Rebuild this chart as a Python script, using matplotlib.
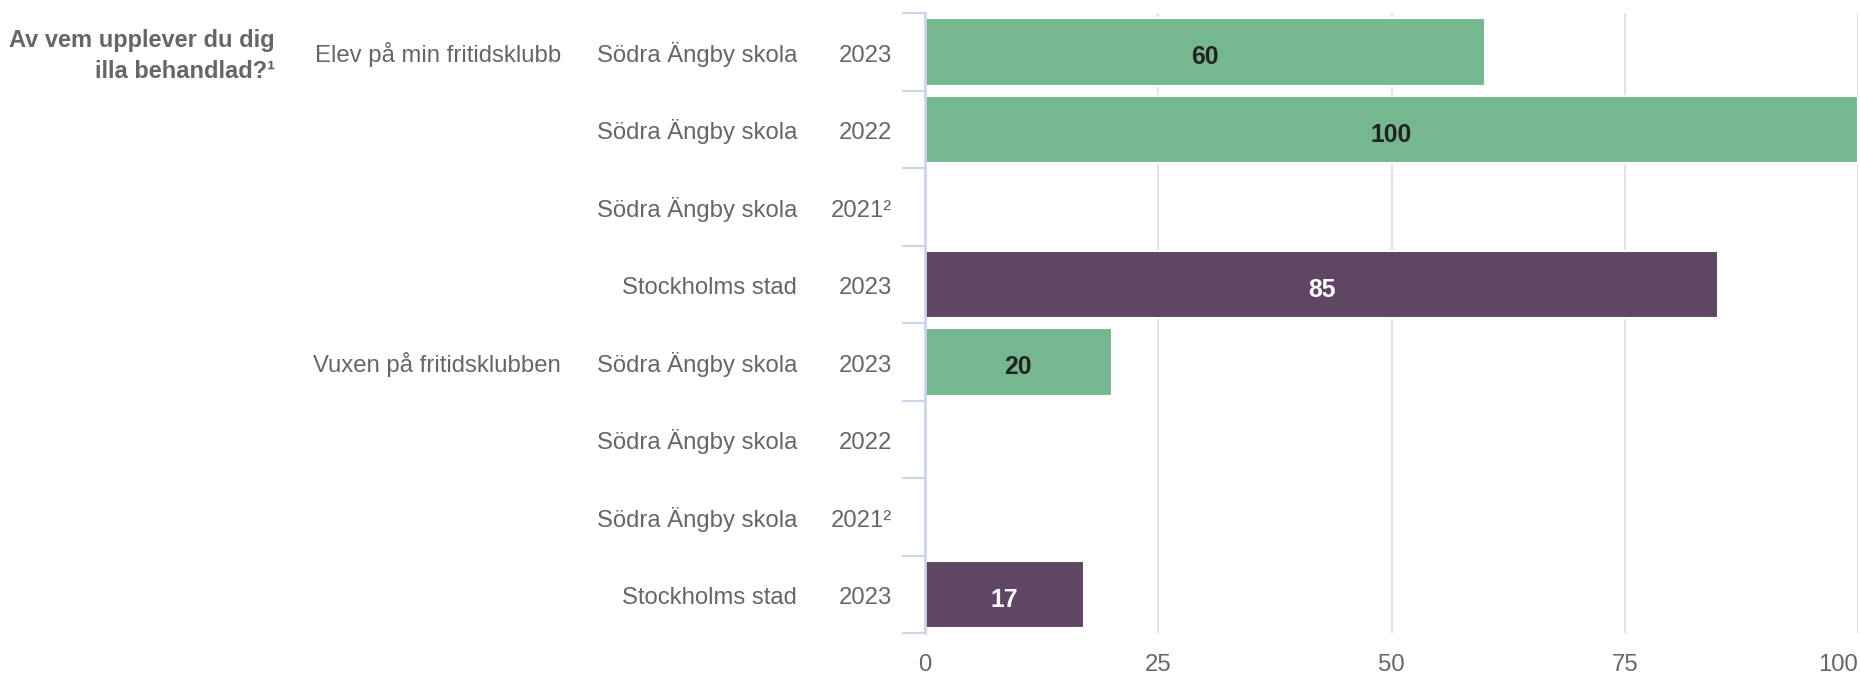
import matplotlib
matplotlib.use("Agg")
import matplotlib.pyplot as plt

plt.rcParams['font.family'] = ['Liberation Sans', 'DejaVu Sans']

title_lines = ["Av vem upplever du dig", "illa behandlad?¹"]
groups = ["Elev på min fritidsklubb", "Vuxen på fritidsklubben"]
units = ["Södra Ängby skola", "Södra Ängby skola", "Södra Ängby skola", "Stockholms stad",
         "Södra Ängby skola", "Södra Ängby skola", "Södra Ängby skola", "Stockholms stad"]
years = ["2023", "2022", "2021²", "2023", "2023", "2022", "2021²", "2023"]
values = [60, 100, None, 85, 20, None, None, 17]
kinds = ["school", "school", "school", "city", "school", "school", "school", "city"]
xticks = [0, 25, 50, 75, 100]

GREEN = "#75b88f"
PURPLE = "#5f4663"
TXT = "#666666"
SPINE = "#cdd3ea"
GRID = "#e3e3e3"

W, H = 1860, 676
fig = plt.figure(figsize=(W / 100, H / 100), dpi=100)
x0, x1 = 925, 1858
ytop, ybot = 13.4, 633.4
ax = fig.add_axes([x0 / W, (H - ybot) / H, (x1 - x0) / W, (ybot - ytop) / H])

fs = 17.2
LAB_OFF = 0.123   # baseline offset of category labels (row units)
VAL_OFF = 0.156   # baseline offset of value labels (row units)

for i, (v, k) in enumerate(zip(values, kinds)):
    if v is None:
        continue
    col = GREEN if k == "school" else PURPLE
    ax.barh(i, v, height=0.87, color=col, edgecolor="white", linewidth=1.5, zorder=3)
    ax.text(v / 2, i + VAL_OFF, f"{v}", ha="center", va="baseline", fontsize=17.8,
            fontweight="bold", color="#222222" if k == "school" else "white", zorder=4)

ax.set_xlim(0, 100)
ax.set_ylim(7.5, -0.5)
ax.set_xticks(xticks)
ax.set_xticklabels([str(t) for t in xticks], fontsize=fs, color=TXT)
ax.get_xticklabels()[-1].set_horizontalalignment("right")
ax.tick_params(axis="x", length=0, pad=14.5)
ax.set_yticks([i - 0.5 for i in range(len(values) + 1)])
ax.set_yticklabels([])
ax.tick_params(axis="y", length=16.6, width=1.5, color=SPINE)
ax.xaxis.grid(True, color=GRID, linewidth=1.5, zorder=0)
for s in ["top", "right", "bottom"]:
    ax.spines[s].set_visible(False)
ax.spines["left"].set_color(SPINE)
ax.spines["left"].set_linewidth(2)
ax.spines["left"].set_zorder(5)

tr = ax.get_yaxis_transform()
def axx(px):
    return (px - x0) / (x1 - x0)

for i in range(len(values)):
    ax.text(axx(892), i + LAB_OFF, years[i], transform=tr, ha="right", va="baseline",
            fontsize=fs, color=TXT)
    ax.text(axx(797), i + LAB_OFF, units[i], transform=tr, ha="right", va="baseline",
            fontsize=fs, color=TXT)
ax.text(axx(561), 0 + LAB_OFF, groups[0], transform=tr, ha="right", va="baseline",
        fontsize=fs, color=TXT)
ax.text(axx(561), 4 + LAB_OFF, groups[1], transform=tr, ha="right", va="baseline",
        fontsize=fs, color=TXT)
ax.text(axx(275), -0.071, title_lines[0], transform=tr, ha="right", va="baseline",
        fontsize=17.0, fontweight="bold", color=TXT)
ax.text(axx(275), 0.329, title_lines[1], transform=tr, ha="right", va="baseline",
        fontsize=17.0, fontweight="bold", color=TXT)

fig.savefig("out.png", dpi=100)
